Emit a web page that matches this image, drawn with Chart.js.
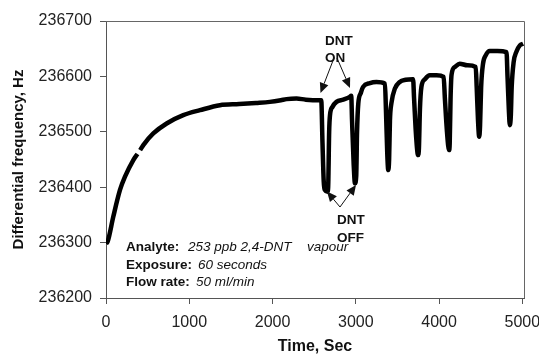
<!DOCTYPE html>
<html>
<head>
<meta charset="utf-8">
<script src="https://cdn.jsdelivr.net/npm/chart.js@4.4.1/dist/chart.umd.min.js"></script>
<style>
  html, body { margin: 0; padding: 0; background: #fff; }
  #wrap { width: 539px; height: 356px; }
</style>
</head>
<body>
<div id="wrap"><canvas id="dnt-chart"></canvas></div>
<script>
// values (time in s, differential frequency in Hz)
// null = small break visible in the early rise
const timeSec = [
    0, 20, 88, 168, 228, 328, 378, 395, 410, 448, 568, 728, 928, 1128, 1368, 1600, 1800, 1968, 2100, 2168, 2288, 2400, 2568,
    2585, 2600, 2615, 2628, 2660, 2668, 2680, 2690, 2720, 2768, 2850, 2928, 2945,
    2955, 2975, 2990, 3005, 3015, 3030, 3060, 3088, 3170, 3248, 3350,
    3362, 3378, 3390, 3400, 3410, 3428, 3470, 3528, 3600, 3688,
    3700, 3725, 3748, 3758, 3770, 3788, 3830, 3888, 3970, 4055,
    4070, 4095, 4120, 4128, 4138, 4150, 4190, 4248, 4340, 4440,
    4452, 4468, 4482, 4492, 4505, 4528, 4560, 4608, 4700, 4810,
    4822, 4838, 4850, 4862, 4872, 4895, 4930, 4970, 5010
];
const freqHz = [
    236298, 236302, 236347, 236395, 236419, 236449, 236460, null, 236467, 236476, 236497, 236515, 236530, 236539, 236548, 236550, 236552, 236554, 236557, 236559, 236560, 236558, 236557,
    236557, 236480, 236410, 236395, 236392, 236400, 236500, 236530, 236545, 236554, 236558, 236563, 236565,
    236520, 236440, 236407, 236420, 236500, 236551, 236570, 236581, 236588, 236590, 236587,
    236540, 236460, 236431, 236450, 236520, 236552, 236578, 236590, 236594, 236595,
    236560, 236490, 236458, 236470, 236540, 236581, 236595, 236602, 236602, 236599,
    236560, 236500, 236467, 236480, 236560, 236603, 236617, 236623, 236620, 236617,
    236580, 236520, 236491, 236510, 236580, 236623, 236638, 236646, 236646, 236644,
    236600, 236540, 236512, 236530, 236580, 236625, 236645, 236656, 236659
];
const xTicks = [0, 1000, 2000, 3000, 4000, 5000];
const yTicks = [236200, 236300, 236400, 236500, 236600, 236700];

const FONT = "Arial, 'Liberation Sans', sans-serif";

// draws the box, the arrows and the notes on the plot
const notesPlugin = {
    id: "notes",
    afterDraw(chart) {
        const ctx = chart.ctx;
        const a = chart.chartArea;
        ctx.save();
        ctx.strokeStyle = "#666";
        ctx.lineWidth = 1;
        ctx.beginPath();
        ctx.moveTo(a.left, a.top + 0.5);
        ctx.lineTo(a.right + 0.5, a.top + 0.5);
        ctx.lineTo(a.right + 0.5, a.bottom);
        ctx.stroke();

        const arrow = (x1, y1, x2, y2) => {
            const ang = Math.atan2(y2 - y1, x2 - x1);
            const len = 10, half = 4.5;
            const bx = x2 - len * Math.cos(ang), by = y2 - len * Math.sin(ang);
            ctx.strokeStyle = "#111";
            ctx.lineWidth = 1;
            ctx.beginPath();
            ctx.moveTo(x1, y1);
            ctx.lineTo(bx, by);
            ctx.stroke();
            ctx.fillStyle = "#111";
            ctx.beginPath();
            ctx.moveTo(x2, y2);
            ctx.lineTo(bx + half * Math.sin(ang), by - half * Math.cos(ang));
            ctx.lineTo(bx - half * Math.sin(ang), by + half * Math.cos(ang));
            ctx.closePath();
            ctx.fill();
        };

        ctx.fillStyle = "#111";
        ctx.textBaseline = "alphabetic";
        ctx.textAlign = "left";
        ctx.font = "bold 13.5px " + FONT;
        ctx.fillText("DNT", 325, 45);
        ctx.fillText("ON", 325, 62);
        ctx.fillText("DNT", 337, 224);
        ctx.fillText("OFF", 337, 242);
        arrow(334, 58, 320.5, 93);
        arrow(337, 58, 350, 88);
        arrow(340, 207, 327, 191.5);
        arrow(340, 207, 356, 185);

        ctx.fillStyle = "#111";
        const line = (x, y, label, value, gap) => {
            ctx.font = "bold 13.5px " + FONT;
            ctx.fillText(label, x, y);
            ctx.font = "italic 13.5px " + FONT;
            ctx.fillText(value, x + gap, y);
        };
        line(126, 251, "Analyte:", "253 ppb 2,4-DNT", 62);
        ctx.fillText("vapour", 307, 251);
        line(126, 268.5, "Exposure:", "60 seconds", 72);
        line(126, 286, "Flow rate:", "50 ml/min", 70);
        ctx.restore();
    },
};

const ctx = document.getElementById("dnt-chart").getContext("2d");
const chart = new Chart(ctx, {
    type: "line",
    data: {
        datasets: [
            {
                data: timeSec.map((t, i) => ({ x: t, y: freqHz[i] })),
                borderColor: "#000",
                borderWidth: 4.5,
                pointRadius: 0,
                cubicInterpolationMode: "monotone",
                spanGaps: false,
                fill: false,
            },
        ],
    },
    options: {
        responsive: true,
        maintainAspectRatio: false,
        animation: false,
        layout: {
            padding: { top: 21, right: 15, left: 0, bottom: 0 },
        },
        scales: {
            x: {
                type: "linear",
                min: 0,
                max: 5020,
                afterBuildTicks: (scale) => {
                    scale.ticks = xTicks.map((v) => ({ value: v }));
                },
                afterFit: (scale) => {
                    scale.height = 58;
                    scale.paddingLeft = 0;
                    scale.paddingRight = 0;
                },
                grid: { drawOnChartArea: false, drawTicks: true, tickLength: 6, color: "#555" },
                border: { color: "#555" },
                ticks: {
                    padding: 9,
                    maxRotation: 0,
                    color: "#222",
                    font: { family: FONT, size: 16 },
                    callback: (v) => String(v),
                },
                title: {
                    display: true,
                    text: "Time, Sec",
                    color: "#111",
                    padding: { top: 0, bottom: 0 },
                    font: { family: FONT, size: 16, weight: "bold" },
                },
            },
            y: {
                min: 236200,
                max: 236700,
                afterBuildTicks: (scale) => {
                    scale.ticks = yTicks.map((v) => ({ value: v }));
                },
                afterFit: (scale) => {
                    scale.width = 106;
                    scale.paddingTop = 0;
                    scale.paddingBottom = 0;
                },
                grid: { drawOnChartArea: false, drawTicks: true, tickLength: 6, color: "#555" },
                border: { color: "#555" },
                ticks: {
                    padding: 8,
                    color: "#222",
                    font: { family: FONT, size: 16 },
                    callback: (v) => String(v),
                },
                title: {
                    display: true,
                    text: "Differential frequency, Hz",
                    color: "#111",
                    padding: { top: 10, bottom: 0 },
                    font: { family: FONT, size: 15, weight: "bold" },
                },
            },
        },
        plugins: {
            legend: { display: false },
            tooltip: { enabled: false },
        },
    },
    plugins: [notesPlugin],
});
</script>
</body>
</html>
